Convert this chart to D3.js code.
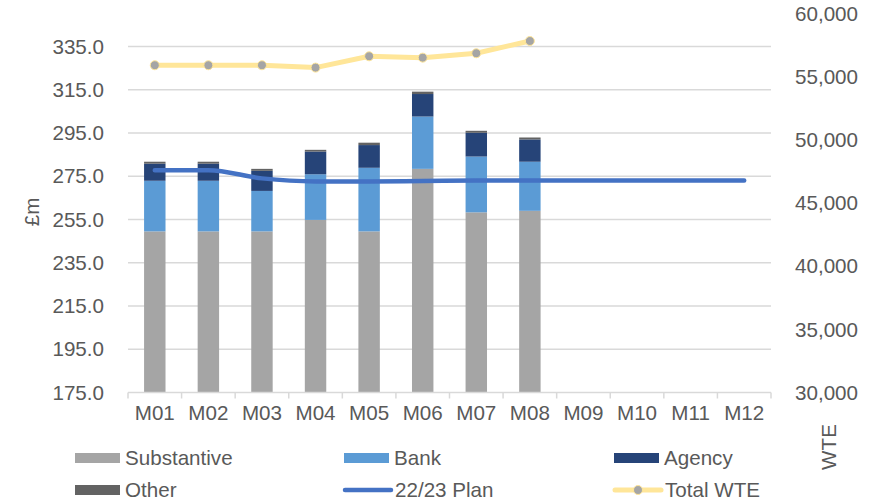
<!DOCTYPE html>
<html>
<head>
<meta charset="utf-8">
<script src="https://cdn.jsdelivr.net/npm/d3@7"></script>
<style>
  html, body { margin: 0; padding: 0; background: #fff; }
  svg { display: block; }
  text { font-family: "Liberation Sans", Arial, sans-serif; fill: #595959; }
</style>
</head>
<body>
<svg id="chart" width="876" height="502"></svg>
<script>
// Monthly pay spend (£m) by staff group, plan line and total WTE
const months = ["M01","M02","M03","M04","M05","M06","M07","M08","M09","M10","M11","M12"];
const substantive = [249.5, 249.5, 249.5, 254.8, 249.5, 278.4, 258.3, 259.0];
const bank        = [23.4, 23.4, 18.7, 21.1, 29.4, 24.2, 25.8, 22.7];
const agency      = [7.9, 7.9, 9.3, 10.5, 10.5, 10.4, 11.0, 10.3];
const other       = [0.9, 0.9, 0.9, 0.8, 1.1, 1.1, 0.9, 0.9];
const plan        = [277.8, 277.8, 274.0, 272.6, 272.6, 272.8, 273.0, 273.0, 273.0, 273.0, 273.0, 273.0];
const totalWte    = [55940, 55940, 55940, 55750, 56650, 56540, 56890, 57860];
const leftTicks   = [175, 195, 215, 235, 255, 275, 295, 315, 335];
const rightTicks  = [30000, 35000, 40000, 45000, 50000, 55000, 60000];

const seriesKeys = ["Substantive", "Bank", "Agency", "Other"];
const seriesColors = { Substantive: "#A5A5A5", Bank: "#5B9BD5", Agency: "#264478", Other: "#636363" };
const planColor = "#4472C4";
const wteColor = "#FFE699";
const gridColor = "#D9D9D9";
const fontSize = 20.6;

const svg = d3.select("#chart");
const plot = { left: 128, right: 771, top: 14, bottom: 392.5 };

const x = d3.scaleBand().domain(months).range([plot.left, plot.right]).paddingInner(0).paddingOuter(0);
const yL = d3.scaleLinear().domain([175, 350]).range([plot.bottom, plot.top]);
const yR = d3.scaleLinear().domain([30000, 60000]).range([plot.bottom, plot.top]);

// gridlines from left axis
svg.append("g")
  .selectAll("line")
  .data(leftTicks.slice(1))
  .join("line")
  .attr("x1", plot.left).attr("x2", plot.right)
  .attr("y1", d => yL(d)).attr("y2", d => yL(d))
  .attr("stroke", gridColor).attr("stroke-width", 1.5);

// stacked bars
const rows = substantive.map((s, i) => ({
  month: months[i], Substantive: s, Bank: bank[i], Agency: agency[i], Other: other[i]
}));
const stacked = d3.stack().keys(seriesKeys)(rows);
const barW = x.bandwidth() / 2.5;
svg.append("g")
  .selectAll("g")
  .data(stacked)
  .join("g")
  .attr("fill", d => seriesColors[d.key])
  .selectAll("rect")
  .data(d => d)
  .join("rect")
  .attr("x", d => x(d.data.month) + (x.bandwidth() - barW) / 2)
  .attr("width", barW)
  .attr("y", d => yL(d[1]))
  .attr("height", d => yL(Math.max(d[0], 175)) - yL(d[1]));

// x axis (category axis with tick marks between categories)
const xAxis = svg.append("g").attr("transform", `translate(0,${plot.bottom})`);
xAxis.append("line")
  .attr("x1", plot.left).attr("x2", plot.right)
  .attr("stroke", gridColor).attr("stroke-width", 1.5);
const boundaries = months.map(m => x(m)).concat([plot.right]);
xAxis.selectAll("line.tick")
  .data(boundaries)
  .join("line")
  .attr("class", "tick")
  .attr("x1", d => d).attr("x2", d => d)
  .attr("y1", 0).attr("y2", 6)
  .attr("stroke", gridColor).attr("stroke-width", 1.5);
xAxis.selectAll("text")
  .data(months)
  .join("text")
  .attr("x", d => x(d) + x.bandwidth() / 2)
  .attr("y", 27)
  .attr("text-anchor", "middle")
  .attr("font-size", fontSize)
  .text(d => d);

// left axis labels
const leftAxis = d3.axisLeft(yL).tickValues(leftTicks).tickFormat(d3.format(".1f")).tickSize(0).tickPadding(24);
const gL = svg.append("g").attr("transform", `translate(${plot.left},0)`).call(leftAxis);
gL.select(".domain").remove();
gL.selectAll("text").attr("font-size", fontSize).attr("fill", "#595959").attr("font-family", "Liberation Sans, Arial, sans-serif");

// right axis labels
const rightAxis = d3.axisRight(yR).tickValues(rightTicks).tickFormat(d3.format(",")).tickSize(0).tickPadding(24);
const gR = svg.append("g").attr("transform", `translate(${plot.right},0)`).call(rightAxis);
gR.select(".domain").remove();
gR.selectAll("text").attr("font-size", fontSize).attr("fill", "#595959").attr("font-family", "Liberation Sans, Arial, sans-serif");

// axis titles
svg.append("text")
  .attr("transform", "translate(39,212) rotate(-90)")
  .attr("text-anchor", "middle")
  .attr("font-size", fontSize)
  .text("£m");
svg.append("text")
  .attr("transform", "translate(836,447) rotate(-90)")
  .attr("text-anchor", "middle")
  .attr("font-size", fontSize)
  .text("WTE");

// 22/23 plan line (smoothed)
const planLine = d3.line()
  .x((d, i) => x(months[i]) + x.bandwidth() / 2)
  .y(d => yL(d))
  .curve(d3.curveMonotoneX);
svg.append("path")
  .datum(plan)
  .attr("d", planLine)
  .attr("fill", "none")
  .attr("stroke", planColor)
  .attr("stroke-width", 4.5)
  .attr("stroke-linecap", "round");

// total WTE line with markers
const wteLine = d3.line()
  .x((d, i) => x(months[i]) + x.bandwidth() / 2)
  .y(d => yR(d));
svg.append("path")
  .datum(totalWte)
  .attr("d", wteLine)
  .attr("fill", "none")
  .attr("stroke", wteColor)
  .attr("stroke-width", 5)
  .attr("stroke-linejoin", "round")
  .attr("stroke-linecap", "round");
svg.append("g")
  .selectAll("circle")
  .data(totalWte)
  .join("circle")
  .attr("cx", (d, i) => x(months[i]) + x.bandwidth() / 2)
  .attr("cy", d => yR(d))
  .attr("r", 4.5)
  .attr("fill", "#A5A5A5")
  .attr("stroke", wteColor)
  .attr("stroke-width", 1);

// legend
const legendItems = [
  { label: "Substantive", type: "rect", color: seriesColors.Substantive, x: 75, y: 458 },
  { label: "Bank", type: "rect", color: seriesColors.Bank, x: 344, y: 458 },
  { label: "Agency", type: "rect", color: seriesColors.Agency, x: 614, y: 458 },
  { label: "Other", type: "rect", color: seriesColors.Other, x: 75, y: 490 },
  { label: "22/23 Plan", type: "line", color: planColor, x: 344, y: 490 },
  { label: "Total WTE", type: "marker", color: wteColor, x: 614, y: 490 }
];
const lg = svg.append("g").selectAll("g").data(legendItems).join("g")
  .attr("transform", d => `translate(${d.x},${d.y})`);
lg.filter(d => d.type === "rect").append("rect")
  .attr("x", 0).attr("y", -5).attr("width", 45).attr("height", 10)
  .attr("fill", d => d.color);
lg.filter(d => d.type !== "rect").append("line")
  .attr("x1", 1).attr("x2", 47).attr("y1", 0).attr("y2", 0)
  .attr("stroke", d => d.color)
  .attr("stroke-width", d => d.type === "line" ? 4.5 : 5)
  .attr("stroke-linecap", "round");
lg.filter(d => d.type === "marker").append("circle")
  .attr("cx", 24).attr("cy", 0).attr("r", 4.5)
  .attr("fill", "#A5A5A5").attr("stroke", wteColor).attr("stroke-width", 1);
lg.append("text")
  .attr("x", d => d.type === "rect" ? 50 : 51)
  .attr("y", 0)
  .attr("dy", "0.35em")
  .attr("font-size", fontSize)
  .text(d => d.label);
</script>
</body>
</html>
